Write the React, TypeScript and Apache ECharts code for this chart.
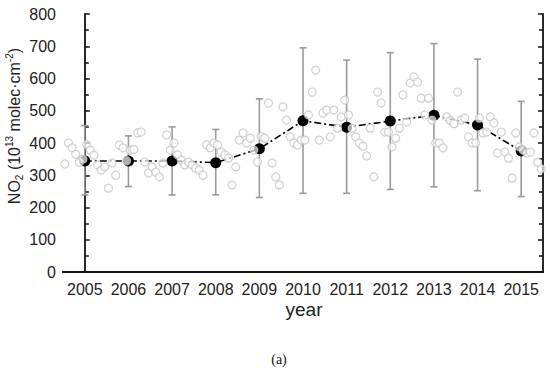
import React, { useEffect, useRef } from "react";
import * as echarts from "echarts";

const years = ["2005", "2006", "2007", "2008", "2009", "2010", "2011", "2012", "2013", "2014", "2015"];
const meanValues = [344, 344, 344, 339, 382, 469, 449, 468, 486, 456, 375];
const errLow = [239, 265, 239, 239, 231, 244, 244, 256, 264, 252, 234];
const errHigh = [454, 422, 450, 442, 537, 695, 657, 680, 708, 660, 529];

const m2005 = [335, 400, 385, 365, 340, 350, 395, 378, 362, 332, 316, 326];
const m2006 = [260, 338, 300, 394, 385, 345, 378, 380, 431, 434, 341, 307];
const m2007 = [326, 310, 295, 338, 425, 378, 400, 363, 347, 332, 341, 332];
const m2008 = [322, 316, 300, 394, 385, 400, 394, 372, 363, 353, 270, 326];
const m2009 = [409, 431, 400, 415, 378, 341, 420, 415, 524, 338, 295, 270];
const m2010 = [512, 471, 419, 400, 394, 409, 409, 487, 558, 626, 409, 493];
const m2011 = [502, 419, 502, 446, 481, 533, 487, 446, 419, 400, 390, 360];
const m2012 = [446, 295, 558, 524, 434, 434, 388, 415, 446, 549, 465, 586];
const m2013 = [605, 589, 539, 487, 539, 471, 400, 400, 385, 481, 470, 460];
const m2014 = [558, 471, 477, 419, 400, 400, 477, 431, 434, 481, 462, 369];
const m2015 = [434, 372, 353, 291, 431, 388, 378, 369, 372, 431, 340, 320];
const monthly = [m2005, m2006, m2007, m2008, m2009, m2010, m2011, m2012, m2013, m2014, m2015];

export default function App() {
  const ref = useRef<HTMLDivElement>(null);
  useEffect(() => {
    if (!ref.current) return;
    const chart = echarts.init(ref.current, null, { renderer: "svg" });
    const scatterData: number[][] = [];
    monthly.forEach((arr, i) => {
      arr.forEach((v, m) => {
        scatterData.push([i - 0.5 + (m + 0.5) / 12, v]);
      });
    });
    const errData = years.map((_, i) => [i, errLow[i], errHigh[i]]);
    const axisLine = { lineStyle: { color: "#111", width: 1.8 } };
    const font = "Liberation Sans, Arial, sans-serif";
    chart.setOption({
      animation: false,
      backgroundColor: "#fff",
      grid: { left: 63, right: 7, top: 14, bottom: 99, containLabel: false },
      xAxis: [
        {
          type: "category",
          data: years,
          position: "bottom",
          boundaryGap: true,
          axisLine,
          axisTick: { inside: true, length: 5, lineStyle: { color: "#111", width: 1.5 } },
          axisLabel: { interval: 0, fontSize: 16, color: "#222", fontFamily: font, margin: 9 },
          splitLine: { show: false },
        },
        {
          type: "category",
          data: years,
          position: "top",
          boundaryGap: true,
          axisLine,
          axisTick: { inside: true, length: 5, lineStyle: { color: "#111", width: 1.5 } },
          axisLabel: { show: false },
          splitLine: { show: false },
        },
        {
          type: "value",
          min: -0.5,
          max: 10.5,
          show: false,
          splitLine: { show: false },
        },
      ],
      yAxis: [
        {
          type: "value",
          min: 0,
          max: 800,
          interval: 100,
          position: "left",
          axisLine: { show: true, ...axisLine },
          axisTick: { show: true, inside: true, length: 5, lineStyle: { color: "#111", width: 1.5 } },
          minorTick: { show: true, splitNumber: 2, length: 4, lineStyle: { color: "#111", width: 1.5 } },
          axisLabel: { fontSize: 16, color: "#222", fontFamily: font, margin: 7 },
          splitLine: { show: false },
        },
        {
          type: "value",
          min: 0,
          max: 800,
          interval: 100,
          position: "right",
          axisLine: { show: true, ...axisLine },
          axisTick: { show: true, inside: true, length: 5, lineStyle: { color: "#111", width: 1.5 } },
          minorTick: { show: true, splitNumber: 2, length: 4, lineStyle: { color: "#111", width: 1.5 } },
          axisLabel: { show: false },
          splitLine: { show: false },
        },
      ],
      series: [
        {
          type: "custom",
          xAxisIndex: 0,
          yAxisIndex: 0,
          z: 1,
          data: errData,
          renderItem: (params: any, api: any) => {
            const x = api.value(0);
            const lo = api.coord([x, api.value(1)]);
            const hi = api.coord([x, api.value(2)]);
            const hw = 3.5;
            const style = { stroke: "#9a9a9a", lineWidth: 1.6 };
            return {
              type: "group",
              children: [
                { type: "line", shape: { x1: lo[0], y1: lo[1], x2: hi[0], y2: hi[1] }, style },
                { type: "line", shape: { x1: lo[0] - hw, y1: lo[1], x2: lo[0] + hw, y2: lo[1] }, style },
                { type: "line", shape: { x1: hi[0] - hw, y1: hi[1], x2: hi[0] + hw, y2: hi[1] }, style },
              ],
            };
          },
        },
        {
          type: "line",
          xAxisIndex: 0,
          yAxisIndex: 0,
          z: 2,
          data: meanValues,
          symbol: "circle",
          symbolSize: 11,
          itemStyle: { color: "#000" },
          lineStyle: { color: "#000", width: 1.6, type: [7, 3, 2, 3] },
        },
        {
          type: "scatter",
          xAxisIndex: 2,
          yAxisIndex: 0,
          z: 3,
          data: scatterData,
          symbol: "circle",
          symbolSize: 8,
          itemStyle: { color: "rgba(255,255,255,0.85)", borderColor: "#c4c4c4", borderWidth: 1.2 },
        },
      ],
      graphic: [
        {
          type: "text",
          x: 14,
          y: 126,
          rotation: Math.PI / 2,
          style: {
            text: "{m|NO}{sub|2}{m| (10}{sup|13}{m| molec·cm}{sup|-2}{m|)}",
            align: "center",
            verticalAlign: "middle",
            rich: {
              m: { fontSize: 16, lineHeight: 20, fontFamily: font, fill: "#222" },
              sub: { fontSize: 10, lineHeight: 10, verticalAlign: "bottom", fontFamily: font, fill: "#222" },
              sup: { fontSize: 10, lineHeight: 10, verticalAlign: "top", fontFamily: font, fill: "#222" },
            },
          },
        },
        {
          type: "text",
          x: 304,
          y: 309,
          style: { text: "year", fontSize: 19, fontFamily: font, fill: "#222", align: "center", verticalAlign: "middle" },
        },
        {
          type: "text",
          x: 279,
          y: 359,
          style: { text: "(a)", fontSize: 14, fontFamily: "Liberation Serif, Times New Roman, serif", fill: "#111", align: "center", verticalAlign: "middle" },
        },
      ],
    });
    return () => chart.dispose();
  }, []);
  return <div ref={ref} style={{ width: 550, height: 371, position: "absolute", left: 0, top: 0 }} />;
}
